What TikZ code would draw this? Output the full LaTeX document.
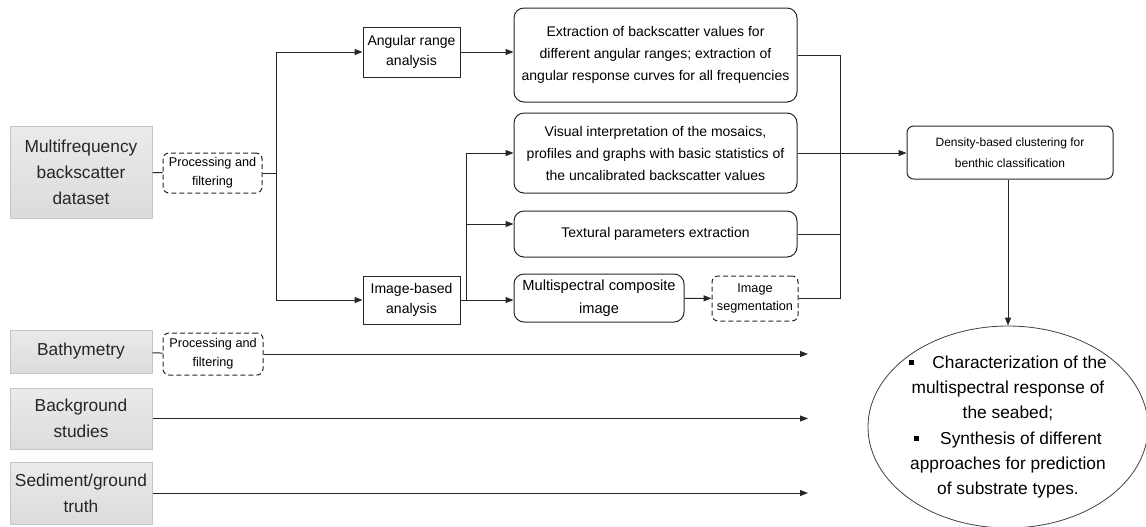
\documentclass[tikz,border=0pt]{standalone}
\usepackage{fontspec}
\setmainfont{Liberation Sans}
\usetikzlibrary{arrows.meta,shapes.geometric}

\tikzset{
  srcbox/.style={draw=gray!45, top color=gray!16, bottom color=gray!28, minimum width=106.5pt,
    text=black!85, align=center, inner sep=1pt, line width=0.75pt, font=\fontsize{13}{19.5}\selectfont},
  procbox/.style={draw=black!85, dash pattern=on 3.75pt off 2.25pt, line width=0.75pt, rounded corners=4.5pt,
    align=center, inner sep=1pt, font=\fontsize{9.5}{14}\selectfont},
  stepbox/.style={draw=black!85, line width=0.75pt, align=center, minimum width=72.75pt, inner sep=1pt,
    font=\fontsize{10.5}{15.5}\selectfont},
  outbox/.style={draw=black!85, line width=0.75pt, rounded corners=7.5pt, align=center, inner sep=1pt,
    font=\fontsize{10.5}{16.5}\selectfont},
  conn/.style={draw=black!85, line width=0.75pt},
  arr/.style={-{Triangle[length=6pt,width=4.5pt]}}
}

\begin{document}
\begin{tikzpicture}[x=0.75pt,y=-0.75pt]
    \useasboundingbox (0,0) rectangle (1146,526);

    \node[srcbox, minimum height=69pt] (multi) at (81,172) {Multifrequency\\backscatter\\dataset};
    \node[procbox, minimum width=74.25pt, minimum height=30pt] (proc1) at (212.5,173) {Processing and\\filtering};
    \node[stepbox, minimum height=37.5pt] (angular) at (411.5,52) {Angular range\\analysis};
    \node[stepbox, minimum height=36pt] (imgbased) at (411.5,300) {Image-based\\analysis};
    \node[outbox, minimum width=212.25pt, minimum height=70.5pt] (extract) at (655.5,55) {Extraction of backscatter values for\\different angular ranges; extraction of\\angular response curves for all frequencies};
    \node[outbox, minimum width=212.25pt, minimum height=60pt] (visual) at (655.5,153) {Visual interpretation of the mosaics,\\profiles and graphs with basic statistics of\\the uncalibrated backscatter values};
    \node[outbox, minimum width=212.25pt, minimum height=34.5pt] (textural) at (655.5,234) {Textural parameters extraction};
    \node[outbox, minimum width=127.5pt, minimum height=36pt, font=\fontsize{11}{17}\selectfont] (multispec) at (599,298) {Multispectral composite\\image};
    \node[procbox, minimum width=64.5pt, minimum height=33.75pt] (imgseg) at (755,298.5) {Image\\segmentation};
    \node[outbox, rounded corners=5pt, minimum width=154.5pt, minimum height=39.75pt,
      font=\fontsize{9}{15.5}\selectfont] (density) at (1010,152.5) {Density-based clustering for\\benthic classification};
    \node[draw=black!75, line width=0.6pt, ellipse, minimum width=210pt, minimum height=150pt, inner sep=0pt, align=center,
      font=\fontsize{13}{19}\selectfont] (result) at (1008,427)
      {\rule[0.35ex]{3.5pt}{3.5pt}\hspace{14pt}Characterization of the\\multispectral response of\\the seabed;\\
       \rule[0.35ex]{3.5pt}{3.5pt}\hspace{16pt}Synthesis of different\\approaches for prediction\\of substrate types.};
    \node[srcbox, minimum height=32.25pt] (bathy) at (81,351.5) {Bathymetry};
    \node[procbox, minimum width=75pt, minimum height=31.5pt] (proc2) at (213,354) {Processing and\\filtering};
    \node[srcbox, minimum height=45.75pt] (backgr) at (81,418.5) {Background\\studies};
    \node[srcbox, minimum height=46.5pt] (sediment) at (81,493) {Sediment/ground\\truth};

    \coordinate (split1) at (276,173);
    \coordinate (split2) at (466,300);
    \coordinate (bus) at (840,0);
    \coordinate (end1) at (808,354);
    \coordinate (end2) at (808,418.5);
    \coordinate (end3) at (808,493);

    \path[conn] (multi) edge (proc1);
    \draw[conn] (proc1.east) -- (split1);
    \draw[conn,arr] (split1) |- (angular);
    \draw[conn,arr] (split1) |- (imgbased);
    \draw[conn,arr] (angular.east) -- (angular.east -| extract.west);
    \draw[conn,arr] (imgbased.east) -- (imgbased.east -| multispec.west);
    \draw[conn,arr] (split2) |- (visual);
    \draw[conn,arr] (split2) |- ([yshift=7.5pt]textural.west);
    \draw[conn,arr] (multispec) -- (imgseg);
    \draw[conn] (extract.east) -| (bus |- imgseg.east) -- (imgseg.east);
    \draw[conn] (textural.east) -- (bus |- textural.east);
    \draw[conn,arr] (visual.east) -- (visual.east -| density.west);
    \draw[conn,arr] (result.north |- density.south) -- (result.north);
    \path[conn] (bathy) edge (proc2);
    \draw[conn,arr] (proc2.east) -- (end1);
    \draw[conn,arr] (backgr) -- (end2);
    \draw[conn,arr] (sediment) -- (end3);
\end{tikzpicture}
\end{document}
